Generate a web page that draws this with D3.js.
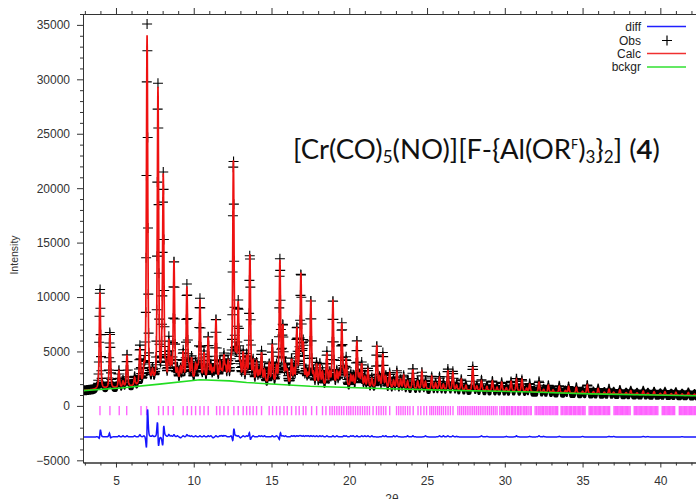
<!DOCTYPE html>
<html>
<head>
<meta charset="utf-8">
<script src="https://cdn.jsdelivr.net/npm/d3@7"></script>
<style>
body { margin: 0; background: #fff; }
svg text { font-family: "Liberation Sans", Arial, sans-serif; }
</style>
</head>
<body>
<svg id="chart" width="696" height="499"></svg>
<script>
// strong reflections: position (2theta), calc / obs net height
var peakPos  = [3.97, 4.61, 5.19, 5.71, 6.54, 7.00, 7.70, 8.04, 8.40, 8.73, 9.32, 9.56, 9.86, 10.40, 10.66, 10.93, 11.43, 11.68, 11.94, 12.21,
                12.55, 12.86, 13.18, 13.61, 14.04, 14.36, 14.85, 15.05, 15.54, 15.73, 16.29, 16.63, 16.89, 17.04, 17.53, 17.90, 18.11, 18.56, 18.95, 19.52,
                19.80, 20.49, 20.80, 21.20, 21.77, 22.16, 22.60, 23.06, 23.50, 24.09, 24.67, 25.30, 25.80, 26.34, 26.66, 27.20, 27.94, 28.50, 29.20, 29.80,
                30.40, 30.75, 31.10, 31.60, 32.20, 32.80, 33.50, 34.10, 34.60, 35.30, 36.00, 36.70, 37.40, 38.10, 38.90, 39.60, 40.30, 41.00, 41.80];
var peakCalc = [8900, 5000, 1500, 2900, 3300, 32000, 27000, 18700, 3600, 11000, 2500, 8500, 1900, 7200, 2300, 3800, 5500, 1500, 2100, 1500,
                20000, 6900, 2500, 11600, 1700, 2700, 1700, 3500, 11200, 5100, 2200, 5000, 9900, 3500, 7800, 1900, 1900, 3000, 7900, 5700,
                2500, 4200, 2100, 1600, 3900, 3100, 1400, 1500, 1200, 1800, 1600, 1200, 1100, 1800, 1600, 1000, 2200, 900, 900, 800,
                900, 1100, 1100, 700, 900, 650, 600, 600, 550, 800, 500, 450, 400, 350, 330, 300, 300, 280, 280];
var peakObs  = [9300, 5200, 1600, 3000, 3500, 33200, 27400, 18900, 3800, 11200, 2600, 8700, 2000, 7300, 2400, 3900, 5600, 1600, 2200, 1500,
                20300, 7000, 2600, 11700, 1700, 2800, 1700, 3600, 11300, 5200, 2300, 5100, 10000, 3600, 7900, 2000, 2000, 3100, 8000, 5700,
                2600, 4300, 2200, 1700, 3900, 3200, 1400, 1600, 1200, 1900, 1600, 1200, 1200, 1900, 1700, 1000, 2200, 1000, 900, 800,
                900, 1200, 1100, 750, 1000, 650, 650, 600, 550, 800, 500, 500, 400, 350, 370, 300, 300, 280, 280];
// weak reflections filling the dense parts of the pattern
var weakPos  = [5.45, 6.20, 6.80, 7.35, 7.95, 8.20, 8.55, 8.95, 9.15, 9.70, 10.12, 10.25, 11.10, 11.25, 11.80, 12.05, 12.40, 12.72, 13.00, 13.40,
                13.82, 14.20, 14.55, 15.32, 15.90, 16.01, 16.45, 16.78, 17.21, 17.35, 17.70, 18.28, 18.75, 19.20, 19.35, 19.65, 20.10, 20.25, 20.65, 21.00,
                21.45, 21.95, 22.35, 22.85, 23.30, 23.75, 24.40, 24.90, 25.55, 26.05, 26.90, 27.50, 28.20, 28.85, 29.50, 30.10, 31.40, 32.50, 33.10, 33.90,
                35.00, 35.70, 36.40, 37.00, 37.80, 38.50, 39.20, 40.00, 40.70, 41.40, 42.20];
var weakCalc = [500, 700, 1200, 900, 1300, 1100, 1600, 900, 1100, 1000, 1300, 900, 1100, 800, 700, 1000, 1200, 1900, 1300, 2100,
                1700, 900, 1100, 1400, 1400, 1100, 1200, 1700, 1100, 800, 1000, 1200, 1100, 1200, 1000, 1100, 1000, 900, 1000, 900,
                800, 900, 1000, 700, 800, 700, 700, 700, 600, 500, 450, 450, 400, 400, 350, 300, 300, 250, 250, 220,
                200, 200, 180, 180, 160, 160, 150, 150, 140, 140, 140];
var weakObs  = [600, 800, 1300, 1000, 1200, 1200, 1700, 1000, 1000, 1100, 1400, 900, 1200, 700, 800, 1100, 1300, 2000, 1200, 2200,
                1800, 1000, 1200, 1500, 1500, 1100, 1300, 1800, 1200, 900, 1100, 1300, 1100, 1300, 1000, 1200, 1100, 1000, 1000, 1000,
                900, 900, 1100, 800, 800, 800, 700, 800, 600, 600, 500, 450, 400, 450, 350, 350, 300, 300, 250, 220,
                240, 200, 180, 220, 160, 160, 180, 150, 140, 160, 140];
// small misfits in position of the observed peaks
var obsShift = [[3.97, 0.003], [4.61, -0.003], [7.00, 0.004], [7.70, -0.003], [8.04, 0.0035], [12.55, 0.002], [13.61, -0.002], [15.54, 0.002]];

// background knots
var bgX = [2.88, 5.3, 7.8, 10.4, 12.3, 13.4, 17.5, 22.0, 25.8, 31.2, 35.5, 42.6];
var bgY = [1400, 1650, 2000, 2400, 2300, 2150, 1800, 1600, 1450, 1300, 1100, 930];

// reflection tick marks
var hklPos = [3.97, 4.61, 5.21, 5.69, 6.61, 6.97, 7.74, 8.04, 8.36, 8.68, 9.32, 9.58, 9.86, 10.12, 10.40, 10.66, 10.93, 11.47, 11.68, 11.94,
  12.21, 12.58, 12.86, 13.18, 13.40, 13.61, 13.82, 14.04, 14.36, 14.85, 15.07, 15.32, 15.54, 15.80, 16.01, 16.29, 16.57, 16.78,
  17.04, 17.21, 17.58, 17.9, 18.28, 18.5, 18.75, 18.9, 19.05, 19.2, 19.35, 19.5, 19.65, 19.83, 19.97, 20.1, 20.25, 20.4, 20.55, 20.7,
  20.85, 21.0, 21.15, 21.3, 21.53, 21.75, 21.9, 22.05, 22.2, 22.35, 22.6, 23.04, 23.18, 23.32, 23.46, 23.6, 23.75, 23.9, 24.11, 24.42,
  24.6, 24.8, 24.97, 25.18, 25.3, 25.42, 25.55, 25.68, 25.8, 25.93, 26.06, 26.2, 26.35, 26.5, 26.67, 26.98, 27.1, 27.22, 27.34, 27.46,
  27.58, 27.7, 27.82, 27.94, 28.06, 28.18, 28.3, 28.42, 28.54, 28.66, 28.78, 28.9, 29.02, 29.14, 29.26, 29.38, 29.5, 29.68,
  29.8, 29.9, 30.0, 30.12, 30.2, 30.3, 30.42, 30.5, 30.6, 30.7, 30.82, 30.9, 31.0, 31.1, 31.22, 31.3, 31.4, 31.5, 31.62, 31.7,
  31.95, 32.05, 32.15, 32.25, 32.33, 32.42, 32.5, 32.6, 32.7, 32.78, 32.88, 32.96, 33.05, 33.15, 33.24, 33.32, 33.4,
  33.62, 33.7, 33.8, 33.88, 33.96, 34.05, 34.14, 34.22, 34.3, 34.4, 34.48, 34.56, 34.65, 34.74, 34.82, 34.9, 35.0, 35.08, 35.16,
  35.42, 35.5, 35.58, 35.66, 35.75, 35.84, 35.92, 36.0, 36.08, 36.16, 36.25, 36.34, 36.42, 36.5, 36.58, 36.66, 36.74,
  37.02, 37.1, 37.18, 37.26, 37.34, 37.42, 37.5, 37.58, 37.66, 37.74, 37.82, 37.9, 37.98, 38.06,
  38.32, 38.4, 38.48, 38.56, 38.64, 38.72, 38.8, 38.88, 38.96, 39.04, 39.12, 39.2, 39.28, 39.36, 39.44, 39.52, 39.6, 39.68, 39.76, 39.84,
  40.12, 40.2, 40.28, 40.36, 40.44, 40.52, 40.6, 40.68, 40.76, 40.84, 40.92,
  41.22, 41.3, 41.38, 41.46, 41.54, 41.62, 41.7, 41.78, 41.86, 41.94, 42.02, 42.1, 42.18, 42.26, 42.34, 42.42];

var diffOffset = -2850;
var xMajor = [5, 10, 15, 20, 25, 30, 35, 40];
var yMajor = [-5000, 0, 5000, 10000, 15000, 20000, 25000, 30000, 35000];
var legendNames = ["diff", "Obs", "Calc", "bckgr"];
var legendColors = ["#2020ff", "#000", "#f03030", "#30e030"];

var svg = d3.select("#chart");
var plotL = 83, plotR = 700, plotT = 14, plotB = 462.5;

var x = d3.scaleLinear().domain([2.88, 42.55]).range([plotL, plotR]);
var y = d3.scaleLinear().domain([-5200, 36000]).range([plotB, plotT]);

var bgAt = d3.scaleLinear().domain(bgX).range(bgY);

var allPos = peakPos.concat(weakPos);
var allCalc = peakCalc.concat(weakCalc);
var allObs = peakObs.concat(weakObs);

// pseudo-Voigt profile, fwhm in degrees
var fwhm = 0.1, eta = 0.45;
function shape(dx) {
  var u = dx / fwhm;
  return eta / (1 + 4 * u * u) + (1 - eta) * Math.exp(-2.7726 * u * u);
}
var shiftOf = {};
obsShift.forEach(function(s) { shiftOf[s[0]] = s[1]; });

function calcAt(t) {
  var s = bgAt(t);
  for (var i = 0; i < allPos.length; i++) s += allCalc[i] * shape(t - allPos[i]);
  return s;
}
function obsAt(t) {
  var s = bgAt(t);
  for (var i = 0; i < allPos.length; i++) s += allObs[i] * shape(t - allPos[i] - (shiftOf[allPos[i]] || 0));
  return s;
}

var calcPts = d3.range(2.88, 42.6, 0.01).map(function(t) { return [t, calcAt(t)]; });
var obsPts = d3.range(2.90, 42.6, 0.02).map(function(t) { return [t, obsAt(t), calcAt(t)]; });

svg.append("clipPath").attr("id", "plot")
  .append("rect").attr("x", plotL).attr("y", plotT).attr("width", plotR - plotL).attr("height", plotB - plotT);

var g = svg.append("g").attr("clip-path", "url(#plot)");

// observed points as plus signs
var plus = "";
obsPts.forEach(function(d) {
  var px = x(d[0]), py = y(d[1]);
  plus += "M" + (px - 5) + "," + py + "h10M" + px + "," + (py - 5) + "v10";
});
g.append("path").attr("d", plus).attr("stroke", "#000").attr("stroke-width", 1.1).attr("fill", "none");

var line = d3.line().x(function(d) { return x(d[0]); }).y(function(d) { return y(d[1]); });

g.append("path").datum(calcPts).attr("d", line)
  .attr("fill", "none").attr("stroke", "#ee1111").attr("stroke-width", 1.7);

g.append("path").datum(bgX.map(function(v, i) { return [v, bgY[i]]; })).attr("d", line)
  .attr("fill", "none").attr("stroke", "#22dd22").attr("stroke-width", 1.6);

g.append("g").selectAll("line").data(hklPos).enter().append("line")
  .attr("x1", function(d) { return x(d); }).attr("x2", function(d) { return x(d); })
  .attr("y1", y(0)).attr("y2", y(-850))
  .attr("stroke", "#ff33ff").attr("stroke-opacity", 0.75).attr("stroke-width", 1.4);

g.append("path").datum(obsPts.map(function(d) { return [d[0], d[1] - d[2] + diffOffset]; })).attr("d", line)
  .attr("fill", "none").attr("stroke", "#1515ff").attr("stroke-width", 1.5);

// axes
function styleAxis(sel) {
  sel.selectAll("path").attr("stroke", "#333");
  sel.selectAll("line").attr("stroke", "#333");
  sel.selectAll("text").attr("fill", "#333").style("font-size", "12px");
}
var xMinor = d3.range(3, 43).filter(function(v) { return v % 5 !== 0; });
var yMinor = d3.range(-5000, 36001, 1000).filter(function(v) { return v % 5000 !== 0; });

svg.append("g").attr("transform", "translate(0," + plotB + ")")
  .call(d3.axisBottom(x).tickValues(xMajor).tickSize(5).tickPadding(9).tickSizeOuter(0))
  .call(styleAxis);
svg.append("g").attr("transform", "translate(0," + plotB + ")")
  .call(d3.axisBottom(x).tickValues(xMinor).tickSize(3).tickFormat("").tickSizeOuter(0))
  .call(styleAxis);
svg.append("g").attr("transform", "translate(0," + plotT + ")")
  .call(d3.axisTop(x).tickValues(xMajor).tickSize(6).tickFormat("").tickSizeOuter(0))
  .call(styleAxis);
svg.append("g").attr("transform", "translate(0," + plotT + ")")
  .call(d3.axisTop(x).tickValues(xMinor).tickSize(3).tickFormat("").tickSizeOuter(0))
  .call(styleAxis);
svg.append("g").attr("transform", "translate(" + plotL + ",0)")
  .call(d3.axisLeft(y).tickValues(yMajor).tickSize(6).tickPadding(7).tickFormat(d3.format("d")).tickSizeOuter(0))
  .call(styleAxis);
svg.append("g").attr("transform", "translate(" + plotL + ",0)")
  .call(d3.axisLeft(y).tickValues(yMinor).tickSize(3).tickFormat("").tickSizeOuter(0))
  .call(styleAxis);

svg.append("text").attr("transform", "translate(18,255) rotate(-90)")
  .attr("text-anchor", "middle").style("font-size", "10.5px").attr("fill", "#333").text("Intensity");
svg.append("text").attr("x", 392).attr("y", 503)
  .attr("text-anchor", "middle").style("font-size", "12px").attr("fill", "#333").text("2θ");

// legend
var legRows = [26.5, 40.5, 53.5, 67];
var leg = svg.append("g");
legendNames.forEach(function(name, i) {
  leg.append("text").attr("x", 641).attr("y", legRows[i] + 4.2).attr("text-anchor", "end")
    .style("font-size", "12px").attr("fill", "#222").text(name);
  if (name === "Obs") {
    leg.append("path").attr("d", "M662," + legRows[i] + "h10M667," + (legRows[i] - 5) + "v10")
      .attr("stroke", "#000").attr("stroke-width", 1.2);
  } else {
    leg.append("line").attr("x1", 647).attr("x2", 686).attr("y1", legRows[i]).attr("y2", legRows[i])
      .attr("stroke", legendColors[i]).attr("stroke-width", 1.4);
  }
});

// compound label
var titleParts = [
  { t: "[Cr(CO)" }, { t: "5", sub: true }, { t: "(NO)][F-{Al(OR" }, { t: "F", sup: true }, { t: ")" },
  { t: "3", sub: true }, { t: "}" }, { t: "2", sub: true }, { t: "] (" }, { t: "4", bold: true }, { t: ")" }
];
function drawTitle(fs) {
  svg.select(".title").remove();
  var tt = svg.append("text").attr("class", "title").attr("x", 293).attr("y", 159)
    .style("font-family", "Lato, 'Open Sans', sans-serif").style("font-size", fs + "px").attr("fill", "#111");
  var shift = 0;
  titleParts.forEach(function(p) {
    var want = p.sub ? fs * 0.15 : (p.sup ? -fs * 0.38 : 0);
    var sp = tt.append("tspan").attr("dy", want - shift).text(p.t);
    shift = want;
    if (p.sub) sp.style("font-size", (fs * 0.62) + "px");
    if (p.sup) sp.style("font-size", (fs * 0.46) + "px");
    if (p.bold) sp.style("font-weight", "bold");
  });
  return tt;
}
var tt = drawTitle(26);
var w = tt.node().getBBox().width;
drawTitle(26 * 367 / w);
</script>
</body>
</html>
